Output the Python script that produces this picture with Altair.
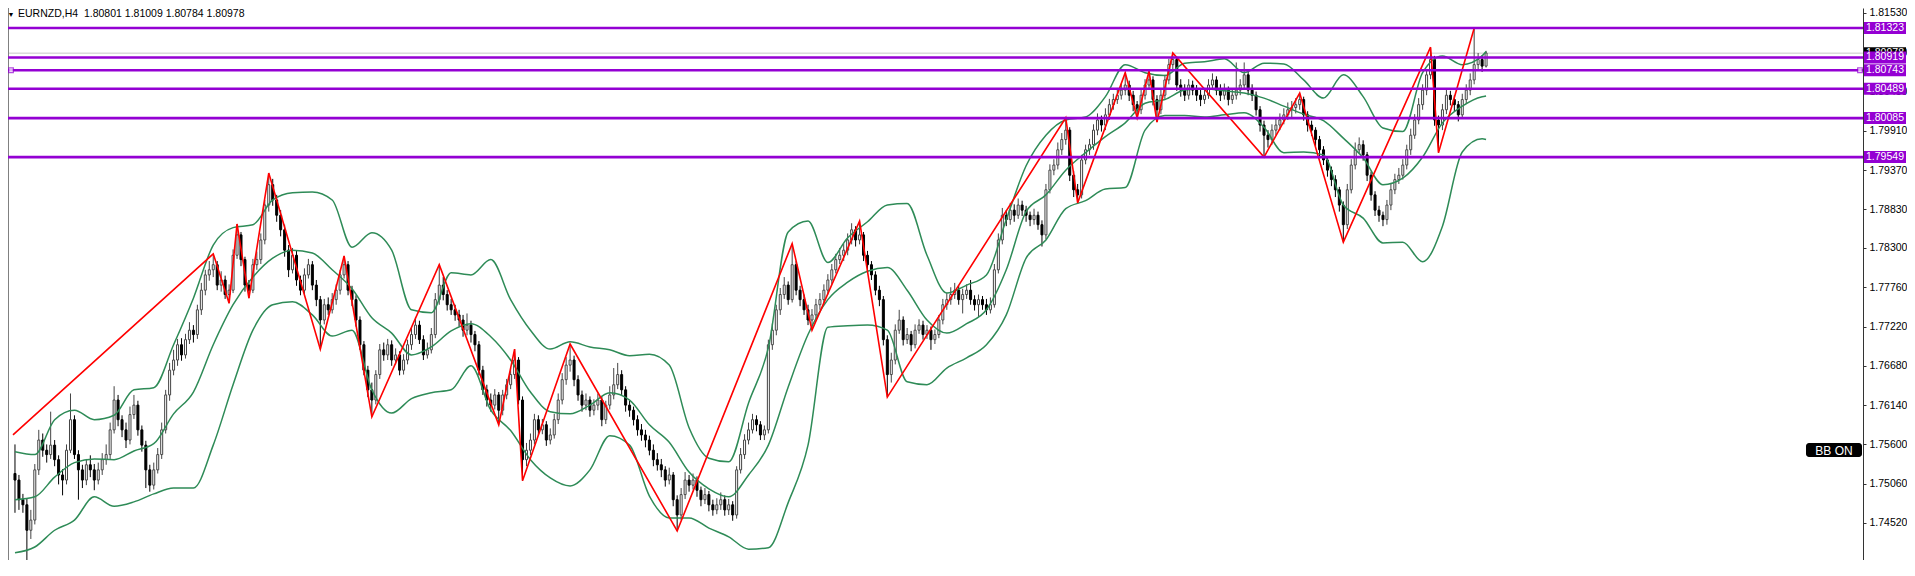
import altair as alt
import pandas as pd

# ---------------- data (prices stored as 0.0001 steps above BASE) ----------------
BASE = 1.70000
UNIT = 0.0001

OPEN = [
 520,511,484,477,442,456,525,566,552,546, 559,539,518,511,552,594,546,525,511,532,
 525,511,525,539,546,580,621,594,580,566, 601,614,580,559,525,504,525,546,580,628,
 662,676,697,683,704,717,711,745,772,793, 800,807,779,786,766,772,820,848,814,779,
 772,807,814,841,889,917,896,875,855,827, 800,820,786,772,793,807,779,759,731,752,
 745,759,772,793,807,772,759,731,697,662, 635,621,656,690,683,697,676,683,662,676,
 697,711,724,704,683,690,711,759,779,766, 752,745,738,731,717,724,711,697,662,635,
 621,614,628,607,628,642,656,676,621,539, 552,566,594,580,587,566,573,594,621,649,
 669,676,649,628,614,621,607,614,621,594, 614,628,642,656,635,614,607,594,580,573,
 566,552,539,532,525,511,518,484,463,491, 511,504,511,497,484,491,477,470,477,484,
 470,477,463,525,546,566,580,594,587,573, 580,697,717,745,766,779,759,807,772,759,
 745,731,738,752,759,772,786,800,814,820, 827,841,855,841,848,820,807,793,772,759,
 704,656,676,717,731,704,711,697,717,724, 711,717,704,711,731,752,759,766,772,759,
 766,772,759,752,759,752,745,752,800,841, 875,869,882,875,889,882,875,869,875,862,
 848,910,937,944,965,979,992,930,910,903, 951,965,972,992,1006,999,1013,1027,1034,1040,
 1047,1054,1040,1027,1020,1040,1054,1061,1034,1020, 1040,1061,1082,1089,1054,1047,1040,1054,1047,1040,
 1034,1040,1054,1061,1047,1040,1047,1034,1040,1047, 1054,1068,1047,1040,1020,999,985,979,992,999,
 1006,1013,1020,1023,1027,1034,1013,999,992,979, 965,951,937,924,910,889,862,910,944,965,
 972,958,930,903,882,875,869,889,910,924, 930,944,965,985,1006,1027,1047,1068,1089,1006,
 999,1020,1040,1034,1027,1013,1034,1047,1061,1082, 1089,1080,
]
HIGH = [
 560,518,492,486,470,533,580,575,560,605, 566,545,526,560,630,600,552,532,540,545,
 533,535,548,560,590,640,628,600,590,612, 628,620,586,565,532,535,555,590,635,672,
 690,705,706,712,728,724,752,782,800,812, 822,812,798,792,780,828,863,852,818,786,
 815,825,850,896,933,925,903,882,862,834, 830,826,792,802,815,812,786,764,760,762,
 768,780,800,819,812,778,765,736,702,668, 645,662,698,700,705,703,692,688,684,704,
 720,735,730,710,700,720,768,807,790,772, 760,752,745,738,740,730,716,702,668,642,
 630,636,632,635,650,665,691,680,626,562, 575,602,600,595,592,582,602,630,658,680,
 698,682,655,634,630,626,622,630,626,620, 640,665,672,662,640,620,612,600,588,580,
 572,560,548,540,530,528,522,490,500,522, 518,520,516,502,500,496,484,486,494,490,
 485,482,530,555,574,590,602,600,592,586, 704,726,752,775,790,784,836,812,778,766,
 752,746,760,768,780,794,808,822,830,836, 850,864,860,867,852,826,812,798,778,764,
 710,686,725,745,736,720,716,725,732,730, 724,722,718,738,760,768,776,782,778,774,
 780,786,765,766,764,760,762,808,850,885, 882,892,890,898,895,888,880,884,880,868,
 918,945,952,975,988,1009,996,936,918,958, 972,980,1000,1015,1012,1022,1035,1042,1050,1056,
 1071,1060,1046,1032,1048,1062,1073,1066,1040,1048, 1068,1090,1098,1093,1062,1055,1062,1060,1054,1048,
 1050,1062,1070,1066,1055,1056,1052,1048,1085,1062, 1085,1072,1055,1045,1025,1005,992,1000,1008,1015,
 1022,1030,1032,1036,1043,1038,1018,1005,996,984, 970,956,942,930,914,894,918,952,975,982,
 978,962,935,908,888,880,896,918,932,940, 952,972,994,1014,1036,1055,1076,1106,1094,1012,
 1028,1048,1046,1040,1032,1042,1055,1070,1132,1098, 1095,1101,
]
LOW = [
 466,470,466,397,430,450,518,543,535,540, 530,505,490,505,548,540,484,500,504,515,
 497,505,518,532,540,575,585,570,555,560, 595,572,550,500,495,498,520,540,575,620,
 655,668,675,678,698,700,705,738,765,785, 790,772,770,760,754,768,815,805,770,761,
 768,800,808,835,880,888,866,846,818,790, 795,778,765,766,788,772,750,691,725,738,
 740,752,766,788,765,750,722,690,655,625, 598,615,650,675,676,668,670,655,656,670,
 690,705,698,676,678,685,706,752,758,744, 738,730,722,708,710,700,688,655,628,612,
 605,608,587,600,622,636,650,615,510,530, 545,560,572,574,558,560,568,588,615,642,
 660,640,620,605,607,598,600,607,585,588, 608,622,636,628,605,598,586,572,565,556,
 545,530,524,515,502,505,475,441,456,485, 495,498,488,475,478,468,462,464,470,462,
 463,455,458,520,540,560,575,578,566,566, 575,690,710,738,760,752,755,765,750,738,
 724,717,732,745,752,766,780,795,808,812, 820,835,832,835,812,798,786,765,750,696,
 625,645,670,712,696,698,688,692,712,704, 705,690,698,706,725,745,752,760,752,740,
 760,752,744,735,745,738,740,748,795,835, 860,862,866,870,874,866,860,862,855,832,
 842,905,930,938,958,972,922,900,892,898, 945,958,965,985,990,992,1006,1020,1028,1034,
 1040,1032,1018,1009,1014,1034,1048,1026,1003,1014, 1035,1055,1076,1046,1038,1032,1034,1040,1032,1025,
 1028,1035,1048,1040,1032,1034,1026,1028,1034,1040, 1048,1040,1032,1012,990,955,968,972,985,992,
 1000,1006,1010,1015,1020,1005,990,984,970,956, 944,928,915,900,880,838,856,905,938,960,
 950,922,895,874,866,860,862,882,904,918, 924,938,958,980,1000,1020,1040,1062,998,961,
 992,1014,1026,1018,1004,1008,1028,1040,1055,1075, 1072,1078,
]
CLOSE = [
 511,484,477,442,456,525,566,552,546,559, 539,518,511,552,594,546,525,511,532,525,
 511,525,539,546,580,621,594,580,566,601, 614,580,559,525,504,525,546,580,628,662,
 676,697,683,704,717,711,745,772,793,800, 807,779,786,766,772,820,848,814,779,772,
 807,814,841,889,917,896,875,855,827,800, 820,786,772,793,807,779,759,731,752,745,
 759,772,793,807,772,759,731,697,662,635, 621,656,690,683,697,676,683,662,676,697,
 711,724,704,683,690,711,759,779,766,752, 745,738,731,717,724,711,697,662,635,621,
 614,628,607,628,642,656,676,621,539,552, 566,594,580,587,566,573,594,621,649,669,
 676,649,628,614,621,607,614,621,594,614, 628,642,656,635,614,607,594,580,573,566,
 552,539,532,525,511,518,484,463,491,511, 504,511,497,484,491,477,470,477,484,470,
 477,463,525,546,566,580,594,587,573,580, 697,717,745,766,779,759,807,772,759,745,
 731,738,752,759,772,786,800,814,820,827, 841,855,841,848,820,807,793,772,759,704,
 656,676,717,731,704,711,697,717,724,711, 717,704,711,731,752,759,766,772,759,766,
 772,759,752,759,752,745,752,800,841,875, 869,882,875,889,882,875,869,875,862,848,
 910,937,944,965,979,992,930,910,903,951, 965,972,992,1006,999,1013,1027,1034,1040,1047,
 1054,1040,1027,1020,1040,1054,1061,1034,1020,1040, 1061,1082,1089,1054,1047,1040,1054,1047,1040,1034,
 1040,1054,1061,1047,1040,1047,1034,1040,1047,1054, 1068,1047,1040,1020,999,985,979,992,999,1006,
 1013,1020,1023,1027,1034,1013,999,992,979,965, 951,937,924,910,889,862,910,944,965,972,
 958,930,903,882,875,869,889,910,924,930, 944,965,985,1006,1027,1047,1068,1089,1006,999,
 1020,1040,1034,1027,1013,1034,1047,1061,1082,1089, 1080,1098,
]

# Bollinger bands, read every 5 bars
BB_IDX = list(range(0, 371, 5)) + [371]
BB_UP = [550,546,594,607,594,600,635,638,697,761, 834,858,862,896,906,907,896,831,851,827,
         745,741,796,793,814,759,717,691,701,694, 690,682,684,669,583,541,536,617,693,852,
         867,810,844,866,889,891,820,768,779,793, 869,943,985,1006,1010,1038,1082,1071,1067,1084,
         1086,1090,1071,1084,1083,1061,1036,1068,1038,995, 990,1071,1094,1082,1094,1100]
BB_MID = [484,488,515,535,540,539,551,561,602,632, 697,752,790,816,827,823,800,774,734,713,
          683,694,716,726,708,676,632,605,602,614, 631,621,587,563,522,499,488,518,559,639,
          711,759,783,798,803,772,731,713,726,745, 800,880,903,937,961,983,1002,1029,1034,1047,
          1049,1046,1043,1036,1025,1014,1005,981,954,917, 926,955,1002,1025,1038,1039]
BB_LO = [411,419,442,456,488,475,481,492,500,500, 559,642,717,752,756,738,709,717,635,603,
         623,631,635,668,607,579,539,514,503,525, 572,559,489,459,459,445,433,416,418,480,
         559,721,723,724,717,646,642,665,679,697, 738,816,841,884,895,911,913,992,1012,1012,
         1010,1013,1016,996,961,962,958,889,871,837, 838,811,860,962,980,979]

# ZigZag vertices
ZZ_IDX = [-0.5, 50, 54, 56, 59, 64, 77, 83, 90, 107, 122, 126, 128, 140, 167, 196,
          201, 213, 220, 265, 268, 280, 283, 286, 288, 292, 315, 324, 335, 357, 359, 368]
ZZ_VAL = [573, 822, 754, 863, 761, 933, 691, 819, 598, 807, 587, 691, 510, 698, 441, 836,
          717, 867, 625, 1009, 892, 1071, 1009, 1073, 1003, 1098, 955, 1043, 838, 1106, 961, 1132]

LEVELS = [1.81323, 1.80919, 1.80743, 1.80489, 1.80085, 1.79549]
BID = 1.80978
TICKS = [1.81530, 1.80990, 1.80450, 1.79910, 1.79370, 1.78830, 1.78300, 1.77760,
         1.77220, 1.76680, 1.76140, 1.75600, 1.75060, 1.74520, 1.73980]
SYMBOL = "EURNZD,H4"
LAST_OHLC = ["1.80801", "1.81009", "1.80784", "1.80978"]

# ---------------- frames ----------------
N = len(CLOSE)
df = pd.DataFrame({"i": list(range(N)), "o": OPEN, "h": HIGH, "l": LOW, "c": CLOSE})
for col in ["o", "h", "l", "c"]:
    df[col] = BASE + df[col] * UNIT
df["top"] = df[["o", "c"]].max(axis=1)
df["bot"] = df[["o", "c"]].min(axis=1)
up = df[df["c"] >= df["o"]]
dn = df[df["c"] < df["o"]]

bb = pd.DataFrame({"i": BB_IDX,
                   "u": [BASE + v * UNIT for v in BB_UP],
                   "m": [BASE + v * UNIT for v in BB_MID],
                   "d": [BASE + v * UNIT for v in BB_LO]})
zz = pd.DataFrame({"i": ZZ_IDX, "p": [BASE + v * UNIT for v in ZZ_VAL]})
lv = pd.DataFrame({"p": LEVELS, "t": [f"{v:.5f}" for v in LEVELS]})
bid = pd.DataFrame({"p": [BID], "t": [f"{BID:.5f}"]})
one = pd.DataFrame({"t": [SYMBOL + "\u00a0\u00a0" + " ".join(LAST_OHLC)]})
sq = pd.DataFrame({"p": [LEVELS[2]]})
tk = pd.DataFrame({"p": TICKS})

# ---------------- layout ----------------
W, H = 1855, 552
PURPLE = "#9400D3"
FONT = "Liberation Sans"
xs = alt.Scale(domain=[-0.5, 464.8], nice=False, zero=False)
ys = alt.Scale(domain=[1.740111, 1.815987], nice=False, zero=False)
X = alt.X("i:Q", scale=xs, axis=None)

yaxis = alt.Axis(orient="right", values=TICKS, format=".5f", grid=False,
                 labelFont=FONT, labelFontSize=10.5, labelColor="#000000",
                 tickColor="#333333", domainColor="#333333", tickSize=3,
                 labelPadding=3, labelOverlap=False, title=None)

def Y(field):
    return alt.Y(field, scale=ys, title=None)

# the layer that owns the right-hand price axis
axis_layer = alt.Chart(tk).mark_point(opacity=0).encode(
    x=alt.value(0), y=alt.Y("p:Q", scale=ys, axis=yaxis, title=None))

frame = alt.Chart(one).mark_rule(color="#808080", strokeWidth=1).encode(
    x=alt.value(0.5), y=alt.value(0), y2=alt.value(H))

bidline = alt.Chart(bid).mark_rule(color="#c8c8c8", strokeWidth=1).encode(y=Y("p:Q"))

BULL = "#444444"
wick_up = alt.Chart(up).mark_rule(color=BULL, strokeWidth=1, clip=True).encode(
    X, y=Y("l:Q"), y2="h:Q")
wick_dn = alt.Chart(dn).mark_rule(color="#000000", strokeWidth=1, clip=True).encode(
    X, y=Y("l:Q"), y2="h:Q")
body_up = alt.Chart(up).mark_bar(size=2, fill="#ffffff", stroke=BULL,
                                 strokeWidth=1, clip=True).encode(X, y=Y("bot:Q"), y2="top:Q")
body_dn = alt.Chart(dn).mark_bar(size=2, fill="#000000", stroke="#000000",
                                 strokeWidth=1, clip=True).encode(X, y=Y("bot:Q"), y2="top:Q")

GREEN = "#2E8B57"
bands = [alt.Chart(bb).mark_line(color=GREEN, strokeWidth=1.5, interpolate="monotone",
                                 clip=True).encode(X, y=Y(f"{f}:Q")) for f in ["u", "m", "d"]]

zig = alt.Chart(zz).mark_line(color="#ff0000", strokeWidth=1.6, clip=True).encode(X, y=Y("p:Q"))

levels = alt.Chart(lv).mark_rule(color=PURPLE, strokeWidth=2.6).encode(y=Y("p:Q"))

squares = alt.Chart(sq).mark_square(size=22, filled=True, fill="#ffffff", stroke=PURPLE,
                                    strokeWidth=1.2).encode(y=Y("p:Q"), x=alt.value(W - 3))
squares2 = alt.Chart(sq).mark_square(size=22, filled=True, fill="#ffffff", stroke=PURPLE,
                                     strokeWidth=1.2).encode(y=Y("p:Q"), x=alt.value(3))

bid_box = alt.Chart(bid).mark_rect(color="#000000", yOffset=-6, y2Offset=6).encode(
    x=alt.value(W + 1), x2=alt.value(W + 43), y=Y("p:Q"), y2="p:Q")
bid_txt = alt.Chart(bid).mark_text(color="#ffffff", font=FONT, fontSize=10.5,
                                   align="center", baseline="middle").encode(
    x=alt.value(W + 22), y=Y("p:Q"), text="t:N")

lv_box = alt.Chart(lv).mark_rect(color=PURPLE, yOffset=-6, y2Offset=6).encode(
    x=alt.value(W + 1), x2=alt.value(W + 43), y=Y("p:Q"), y2="p:Q")
lv_txt = alt.Chart(lv).mark_text(color="#ffffff", font=FONT, fontSize=10.5,
                                 align="center", baseline="middle").encode(
    x=alt.value(W + 22), y=Y("p:Q"), text="t:N")

tri = alt.Chart(one).mark_text(text="\u25bc", font=FONT, fontSize=7, color="#000000",
                               align="center", baseline="top").encode(
    x=alt.value(3), y=alt.value(3))
title = alt.Chart(one).mark_text(font=FONT, fontSize=10.5, color="#000000",
                                 align="left", baseline="top").encode(
    x=alt.value(10), y=alt.value(1), text="t:N")

bb_box = alt.Chart(one).mark_rect(color="#000000", cornerRadius=3).encode(
    x=alt.value(1798), x2=alt.value(1854), y=alt.value(435), y2=alt.value(449))
bb_txt = alt.Chart(one).mark_text(text="BB ON", font=FONT, fontSize=12, color="#ffffff",
                                  align="center", baseline="middle").encode(
    x=alt.value(1826), y=alt.value(442.5))

chart = alt.layer(
    axis_layer, bidline, frame, wick_up, wick_dn, body_up, body_dn, *bands, zig, levels,
    squares, squares2, bid_box, bid_txt, lv_box, lv_txt, tri, title, bb_box, bb_txt,
).properties(
    width=W, height=H,
    padding={"left": 0, "top": 0, "right": 44, "bottom": 0},
    autosize=alt.AutoSizeParams(type="none"),
    background="#ffffff",
).configure_view(stroke=None)

chart.save("out.html", embed_options={"renderer": "svg", "actions": False})
